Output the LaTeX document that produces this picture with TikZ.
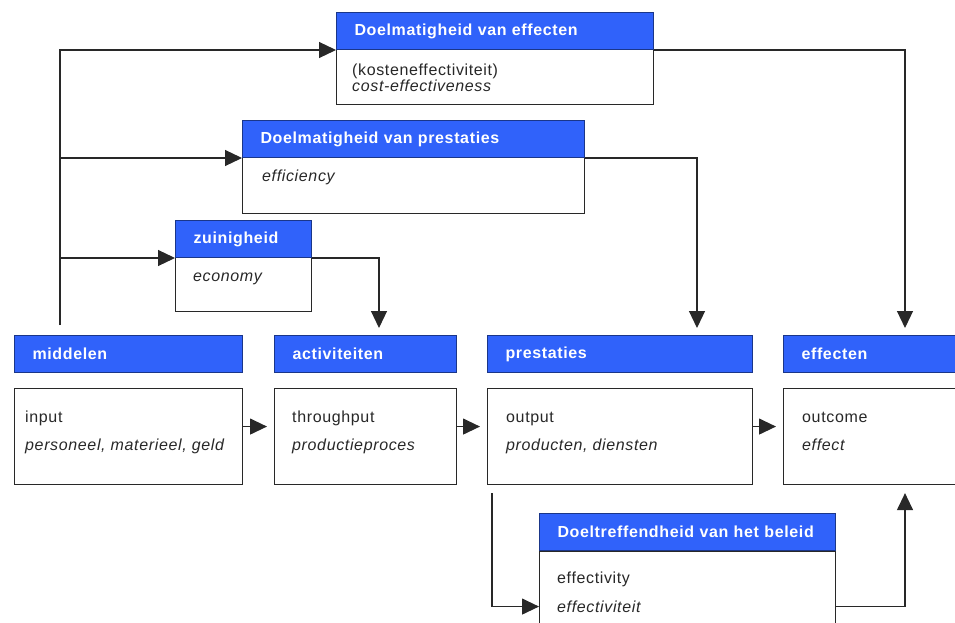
\documentclass[tikz,border=0pt]{standalone}
\usepackage{fontspec}
\setmainfont[LetterSpace=4]{Liberation Sans}
\usetikzlibrary{arrows.meta}
\definecolor{hblue}{RGB}{48,98,250}
\definecolor{ink}{RGB}{40,40,40}
\begin{document}
\begin{tikzpicture}[x=1pt,y=-1pt,
  hdr/.style={draw=hblue!55!black,fill=hblue,line width=1pt,anchor=north west,
    inner xsep=18pt,inner ysep=0pt,minimum height=37pt,align=left,
    font=\fontsize{16}{19}\selectfont\bfseries,text=white},
  body/.style={draw=ink,fill=white,line width=1.1pt,anchor=north west,inner sep=0pt},
  txt/.style={anchor=base west,inner sep=0pt,font=\fontsize{16}{19}\selectfont,text=ink},
  itxt/.style={txt,font=\fontsize{16}{19}\selectfont\itshape},
  conn/.style={line width=1.2pt,draw=ink},
  arr/.style={conn,-{Triangle[length=17pt,width=16pt]}}]
\useasboundingbox (0,0) rectangle (955,623);
\clip (0,0) rectangle (955,623);
\fill[white] (0,0) rectangle (955,623);

% top box: Doelmatigheid van effecten
\node[body,minimum width=317pt,minimum height=56pt] (b1) at (336,48) {};
\node[hdr,text width=281pt] (h1) at (336,12) {Doelmatigheid van effecten};
\node[txt] (t1a) at (352,76) {(kosteneffectiviteit)};
\node[itxt] (t1b) at (352,92) {cost-effectiveness};

% box 2: Doelmatigheid van prestaties
\node[body,minimum width=342pt,minimum height=56pt] (b2) at (242,157) {};
\node[hdr,text width=306pt] (h2) at (242,120) {Doelmatigheid van prestaties};
\node[itxt] (t2a) at (262,181) {efficiency};

% box 3: zuinigheid
\node[body,minimum width=136pt,minimum height=54pt] (b3) at (175,257) {};
\node[hdr,text width=100pt] (h3) at (175,220) {zuinigheid};
\node[itxt] (t3a) at (193,281) {economy};

% main row
\node[hdr,text width=192pt] (hm) at (14,335) {middelen};
\node[body,minimum width=228pt,minimum height=96pt] (bm) at (14,388) {};
\node[txt] (tma) at (25,422) {input};
\node[itxt] (tmb) at (25,450) {personeel, materieel, geld};

\node[hdr,text width=146pt] (ha) at (274,335) {activiteiten};
\node[body,minimum width=182pt,minimum height=96pt] (ba) at (274,388) {};
\node[txt] (taa) at (292,422) {throughput};
\node[itxt] (tab) at (292,450) {productieproces};

\node[hdr,text width=229pt] (hp) at (487,335) {prestaties};
\node[body,minimum width=265pt,minimum height=96pt] (bp) at (487,388) {};
\node[txt] (tpa) at (506,422) {output};
\node[itxt] (tpb) at (506,450) {producten, diensten};

\node[hdr,text width=144pt] (he) at (783,335) {effecten};
\node[body,minimum width=180pt,minimum height=96pt] (be) at (783,388) {};
\node[txt] (tea) at (802,422) {outcome};
\node[itxt] (teb) at (802,450) {effect};

% bottom box
\node[body,minimum width=296pt,minimum height=110pt] (bd) at (539,551) {};
\node[hdr,text width=260pt] (hd) at (539,513) {Doeltreffendheid van het beleid};
\node[txt] (tda) at (557,583) {effectivity};
\node[itxt] (tdb) at (557,612) {effectiviteit};

% left trunk
\coordinate (s0) at (60,325);
\draw[arr] (s0) |- (h1.south west);
\draw[arr] (s0 |- h2.south west) -- (h2.south west);
\draw[arr] (s0 |- h3.south west) -- (h3.south west);

% down arrows
\draw[arr,shorten >=7pt] (h1.south east) -| ([xshift=122pt]he.north west);
\draw[arr,shorten >=7pt] (h2.south east) -| ([xshift=210pt]hp.north west);
\draw[arr,shorten >=7pt] (h3.south east) -| ([xshift=105pt]ha.north west);

% row arrows
\draw[arr,shorten >=7pt] ([yshift=10pt]bm.east) -- ([yshift=10pt]ba.west);
\draw[arr,shorten >=7pt] ([yshift=10pt]ba.east) -- ([yshift=10pt]bp.west);
\draw[arr,shorten >=7pt] ([yshift=10pt]bp.east) -- ([yshift=10pt]be.west);

% bottom loop
\draw[arr,shorten <=8pt] ([xshift=5pt]bp.south west) |- (bd.west);
\draw[arr,shorten >=8pt] (bd.east) -| ([xshift=122pt]be.south west);
\end{tikzpicture}
\end{document}
